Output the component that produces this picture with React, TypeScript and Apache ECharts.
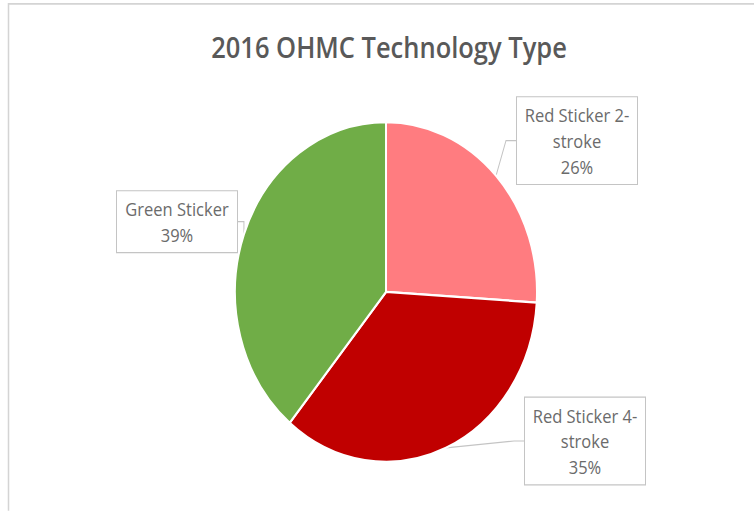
import React, { useEffect, useRef } from 'react';
import * as echarts from 'echarts';

// ---- data ----
const chartTitle = '2016 OHMC Technology Type';
const categories = ['Red Sticker 2-\nstroke', 'Red Sticker 4-\nstroke', 'Green Sticker'];
const shares = [26, 35, 39];
const sliceColors = ['#FF7C80', '#C00000', '#70AD47'];

// ---- layout (not data) ----
const SY = 1.125; // the reference picture is stretched vertically
const W = 754;
const H = 511 / SY;
const labelCenters: [number, number][] = [
  [577, 125],
  [585, 392],
  [177, 197],
];
const FONT = '"Open Sans", "Noto Sans", sans-serif';

export default function App() {
  const ref = useRef<HTMLDivElement>(null);

  useEffect(() => {
    if (!ref.current) return;
    const chart = echarts.init(ref.current, null, { renderer: 'svg', width: W, height: H });
    chart.setOption({
      animation: false,
      backgroundColor: '#ffffff',
      graphic: [
        {
          type: 'rect',
          z: -10,
          silent: true,
          shape: { x: 8.5, y: 3.5, width: 900, height: 700 },
          style: { fill: '#ffffff', stroke: '#d4d4d4', lineWidth: 1.5 },
        },
      ],
      title: {
        text: chartTitle,
        left: 384,
        textAlign: 'center',
        top: 24,
        textStyle: {
          fontFamily: FONT,
          fontSize: 25.5,
          fontWeight: 600,
          color: '#595959',
        },
      },
      series: [
        {
          type: 'pie',
          center: [386, 259.5],
          radius: 151,
          startAngle: 90,
          clockwise: true,
          data: categories.map((name, i) => ({
            name,
            value: shares[i],
            itemStyle: { color: sliceColors[i] },
          })),
          itemStyle: { borderColor: '#ffffff', borderWidth: 2 },
          label: {
            show: true,
            position: 'outside',
            formatter: '{b}\n{d}%',
            fontFamily: FONT,
            fontSize: 16.5,
            lineHeight: 23,
            color: '#6b6b6b',
            backgroundColor: '#ffffff',
            borderColor: '#c4c4c4',
            borderWidth: 1,
            padding: [4, 5],
            width: 110,
            align: 'center',
          },
          labelLine: {
            show: true,
            length: 10,
            length2: 10,
            lineStyle: { color: '#c4c4c4', width: 1 },
          },
          labelLayout: (p: any) => {
            const c = labelCenters[p.dataIndex];
            return { x: c[0], y: c[1], align: 'center', verticalAlign: 'middle' };
          },
        },
      ],
    });
    return () => chart.dispose();
  }, []);

  return (
    <div
      style={{
        position: 'fixed',
        left: 0,
        top: 0,
        width: 754,
        height: 511,
        overflow: 'hidden',
        background: '#ffffff',
      }}
    >
      <div
        ref={ref}
        style={{ width: W, height: H, transform: `scaleY(${SY})`, transformOrigin: '0 0' }}
      />
    </div>
  );
}
